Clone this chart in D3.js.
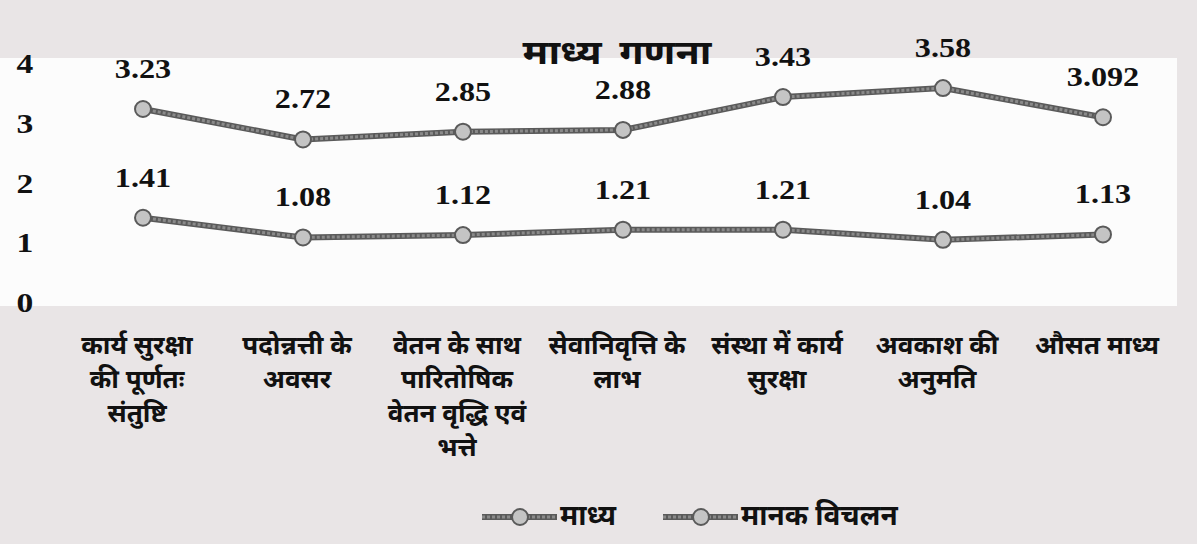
<!DOCTYPE html>
<html>
<head>
<meta charset="utf-8">
<script src="https://cdn.jsdelivr.net/npm/d3@7"></script>
<style>
  body { margin: 0; background: #e9e5e6; }
  svg { display: block; }
</style>
</head>
<body>
<div id="chart"></div>
<script>
// chart data
const categories = [
    ["कार्य सुरक्षा", "की पूर्णतः", "संतुष्टि"],
    ["पदोन्नत्ती के", "अवसर"],
    ["वेतन के साथ", "पारितोषिक", "वेतन वृद्धि एवं", "भत्ते"],
    ["सेवानिवृत्ति के", "लाभ"],
    ["संस्था में कार्य", "सुरक्षा"],
    ["अवकाश की", "अनुमति"],
    ["औसत माध्य"]
];
const meanValues = [3.23, 2.72, 2.85, 2.88, 3.43, 3.58, 3.092];
const sdValues = [1.41, 1.08, 1.12, 1.21, 1.21, 1.04, 1.13];
const yTicks = [0, 1, 2, 3, 4];
const seriesNames = ["माध्य", "मानक विचलन"];
const title = "माध्य गणना";

const width = 1197, height = 544;

const svg = d3.select("#chart")
    .append("svg")
    .attr("width", width)
    .attr("height", height);

// white plot panel
svg.append("rect")
    .attr("x", 0).attr("y", 58)
    .attr("width", 1177).attr("height", 248)
    .attr("fill", "#fcfcfc");

const x = d3.scaleBand()
    .domain(d3.range(categories.length))
    .range([63, 1183]);

const y = d3.scaleLinear()
    .domain([0, 4])
    .range([302, 63]);

const cx = i => x(i) + x.bandwidth() / 2;

const numFont = "'Liberation Serif', 'Times New Roman', serif";
const hindiFont = "'Noto Sans', 'Noto Sans Devanagari', sans-serif";

// y axis labels
svg.append("g")
    .selectAll("text")
    .data(yTicks)
    .join("text")
    .attr("transform", d => `translate(25,${y(d) + 10}) scale(1.2,1)`)
    .attr("text-anchor", "middle")
    .attr("font-family", numFont)
    .attr("font-weight", "bold")
    .attr("font-size", 28)
    .attr("fill", "#111")
    .text(d => d);

// title
svg.append("text")
    .attr("transform", "translate(617,64) scale(1.2,1)")
    .attr("text-anchor", "middle")
    .attr("font-family", hindiFont)
    .attr("font-weight", "bold")
    .attr("font-size", 33)
    .attr("word-spacing", 6)
    .attr("fill", "#111")
    .text(title);

const line = d3.line()
    .x((d, i) => cx(i))
    .y(d => y(d));

function drawSeries(values) {
    svg.append("path")
        .datum(values)
        .attr("fill", "none")
        .attr("stroke", "#5a5a5a")
        .attr("stroke-width", 6)
        .attr("d", line);
    svg.append("path")
        .datum(values)
        .attr("fill", "none")
        .attr("stroke", "#8a8a8a")
        .attr("stroke-width", 3)
        .attr("stroke-dasharray", "3 2")
        .attr("d", line);

    svg.append("g")
        .selectAll("circle")
        .data(values)
        .join("circle")
        .attr("cx", (d, i) => cx(i))
        .attr("cy", d => y(d))
        .attr("r", 8)
        .attr("fill", "#c4c4c4")
        .attr("stroke", "#5a5a5a")
        .attr("stroke-width", 2);

    svg.append("g")
        .selectAll("text")
        .data(values)
        .join("text")
        .attr("transform", (d, i) => `translate(${cx(i)},${y(d) - 31}) scale(1.15,1)`)
        .attr("text-anchor", "middle")
        .attr("font-family", numFont)
        .attr("font-weight", "bold")
        .attr("font-size", 28)
        .attr("fill", "#111")
        .text(d => String(d));
}

drawSeries(meanValues);
drawSeries(sdValues);

// category labels
const catG = svg.append("g");
categories.forEach((lines, i) => {
    const t = catG.append("text")
        .attr("text-anchor", "middle")
        .attr("font-family", hindiFont)
        .attr("font-size", 26)
        .attr("font-weight", "bold")
        .attr("fill", "#111");
    lines.forEach((s, j) => {
        t.append("tspan")
            .attr("x", cx(i) - 6)
            .attr("y", 354 + j * 34)
            .text(s);
    });
});

// legend
const legendX = [482, 663];
const legend = svg.append("g");
seriesNames.forEach((name, i) => {
    const g = legend.append("g").attr("transform", `translate(${legendX[i]},517)`);
    g.append("line").attr("x1", 0).attr("x2", 75)
        .attr("stroke", "#5a5a5a").attr("stroke-width", 6);
    g.append("line").attr("x1", 0).attr("x2", 75)
        .attr("stroke", "#8a8a8a").attr("stroke-width", 3)
        .attr("stroke-dasharray", "3 2");
    g.append("circle").attr("cx", 38).attr("r", 8)
        .attr("fill", "#c4c4c4").attr("stroke", "#5a5a5a").attr("stroke-width", 2);
    g.append("text")
        .attr("x", 78).attr("y", 8)
        .attr("font-family", hindiFont)
        .attr("font-size", 28)
        .attr("font-weight", "bold")
        .attr("fill", "#111")
        .text(name);
});
</script>
</body>
</html>
